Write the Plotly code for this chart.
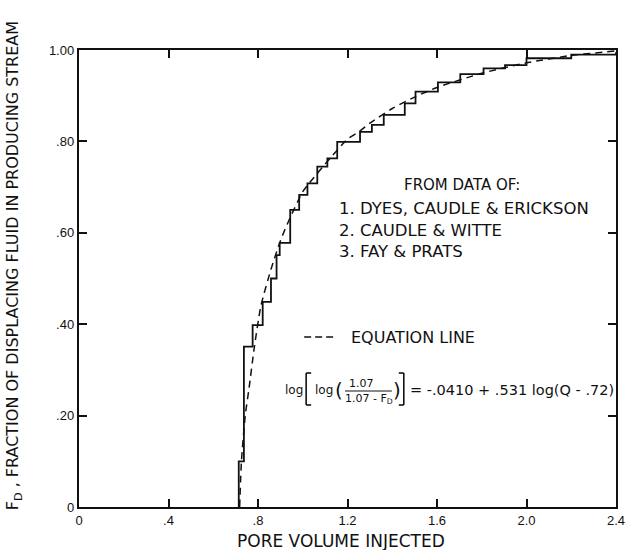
import plotly.graph_objects as go

# ---- data ----
step_q = [0.714, 0.714, 0.737, 0.776, 0.821, 0.858, 0.883, 0.897, 0.944, 0.984, 1.021, 1.065,
          1.110, 1.154, 1.256, 1.309, 1.362, 1.456, 1.504, 1.604, 1.704, 1.808, 1.904, 2.000,
          2.200, 2.400]
step_f = [0.0, 0.10, 0.351, 0.398, 0.449, 0.500, 0.551, 0.578, 0.650, 0.683, 0.708, 0.745,
          0.763, 0.799, 0.821, 0.836, 0.858, 0.883, 0.909, 0.929, 0.947, 0.960, 0.967, 0.982,
          0.990, 0.995]

eq_q = [0.718, 0.726, 0.743, 0.760, 0.784, 0.813, 0.858, 0.902, 0.939, 1.000, 1.028, 1.110,
        1.200, 1.251, 1.300, 1.400, 1.500, 1.600, 1.800, 2.000, 2.200, 2.400]
eq_f = [0.0, 0.10, 0.20, 0.26, 0.351, 0.44, 0.52, 0.585, 0.628, 0.690, 0.708, 0.756,
        0.805, 0.821, 0.840, 0.872, 0.897, 0.918, 0.949, 0.972, 0.988, 0.998]

x_ticks = [0, 0.4, 0.8, 1.2, 1.6, 2.0, 2.4]
x_tick_text = ["0", ".4", ".8", "1.2", "1.6", "2.0", "2.4"]
y_ticks = [0, 0.2, 0.4, 0.6, 0.8, 1.0]
y_tick_text = ["0", ".20", ".40", ".60", ".80", "1.00"]

FONT = "DejaVu Sans"
EQFONT = "DejaVu Sans"
TICKFONT = "Liberation Sans"
INK = "#111111"

fig = go.Figure()
fig.add_trace(go.Scatter(x=step_q, y=step_f, mode="lines", line=dict(color=INK, width=1.8, shape="hv"),
                         showlegend=False, hoverinfo="skip"))
fig.add_trace(go.Scatter(x=eq_q, y=eq_f, mode="lines",
                         line=dict(color=INK, width=1.5, dash="7px,5px", shape="spline", smoothing=0.6),
                         showlegend=False, hoverinfo="skip"))

axis_common = dict(showgrid=False, zeroline=False, showline=True, linecolor=INK, linewidth=2.4,
                   mirror="ticks", ticks="inside", ticklen=8, tickwidth=1.5, tickcolor=INK,
                   tickfont=dict(family=TICKFONT, size=13, color=INK))

fig.update_layout(
    width=637, height=550,
    margin=dict(l=79, r=19, t=50, b=43),
    paper_bgcolor="white", plot_bgcolor="white",
    xaxis=dict(range=[0, 2.4], tickvals=x_ticks, ticktext=x_tick_text, **axis_common),
    yaxis=dict(range=[0, 1.0], tickvals=y_ticks, ticktext=y_tick_text, **axis_common),
)

def px2paper(px, py):
    return (px - 79) / 539.0, (507 - py) / 457.0

ann = []
def add_text(text, px, py, size=13, xanchor="left", yanchor="middle", angle=0, family=FONT):
    x, y = px2paper(px, py)
    ann.append(dict(text=text, x=x, y=y, xref="paper", yref="paper", showarrow=False,
                    xanchor=xanchor, yanchor=yanchor, textangle=angle,
                    font=dict(family=family, size=size, color=INK)))

add_text("FROM DATA OF:", 463, 185, 15, xanchor="center")
add_text("1. DYES, CAUDLE &amp; ERICKSON", 338, 208, 16.5)
add_text("2. CAUDLE &amp; WITTE", 338, 230, 16.5)
add_text("3. FAY &amp; PRATS", 338, 251, 16.5)
add_text("EQUATION LINE", 350, 337, 16)

# equation pieces
add_text("log", 284, 390, 12, family=EQFONT)
add_text("log", 314, 390, 12, family=EQFONT)
add_text("(", 334, 390, 20, family=EQFONT)
add_text("1.07", 363, 383, 11, xanchor="center", family=EQFONT)
add_text("1.07 - F<sub>D</sub>", 370, 399, 11, xanchor="center", family=EQFONT)
add_text(")", 392, 390, 20, family=EQFONT)
add_text("= -.0410 + .531 log(Q - .72)", 409, 390, 14.5, family=EQFONT)

# axis titles
add_text("PORE VOLUME INJECTED", 342, 541, 17, xanchor="center")
add_text("F<sub>D</sub> , FRACTION OF DISPLACING FLUID IN PRODUCING STREAM", 13, 266, 16,
         xanchor="center", angle=-90)

fig.update_layout(annotations=ann)

shapes = []
def seg(x0, y0, x1, y1, w=1.3, dash=None):
    a, b = px2paper(x0, y0)
    c, d = px2paper(x1, y1)
    line = dict(color=INK, width=w)
    if dash:
        line["dash"] = dash
    shapes.append(dict(type="line", xref="paper", yref="paper", x0=a, y0=b, x1=c, y1=d, line=line))

# legend dashed sample
seg(305, 337, 335, 337, 1.5, "7px,4px")
# fraction bar
seg(346, 391, 393, 391, 1.0)
# brackets
seg(307, 373, 307, 405, 1.6); seg(307, 373, 312, 373, 1.6); seg(307, 405, 312, 405, 1.6)
seg(405, 373, 405, 405, 1.6); seg(400, 373, 405, 373, 1.6); seg(400, 405, 405, 405, 1.6)

fig.update_layout(shapes=shapes)
fig.write_html("out.html")
